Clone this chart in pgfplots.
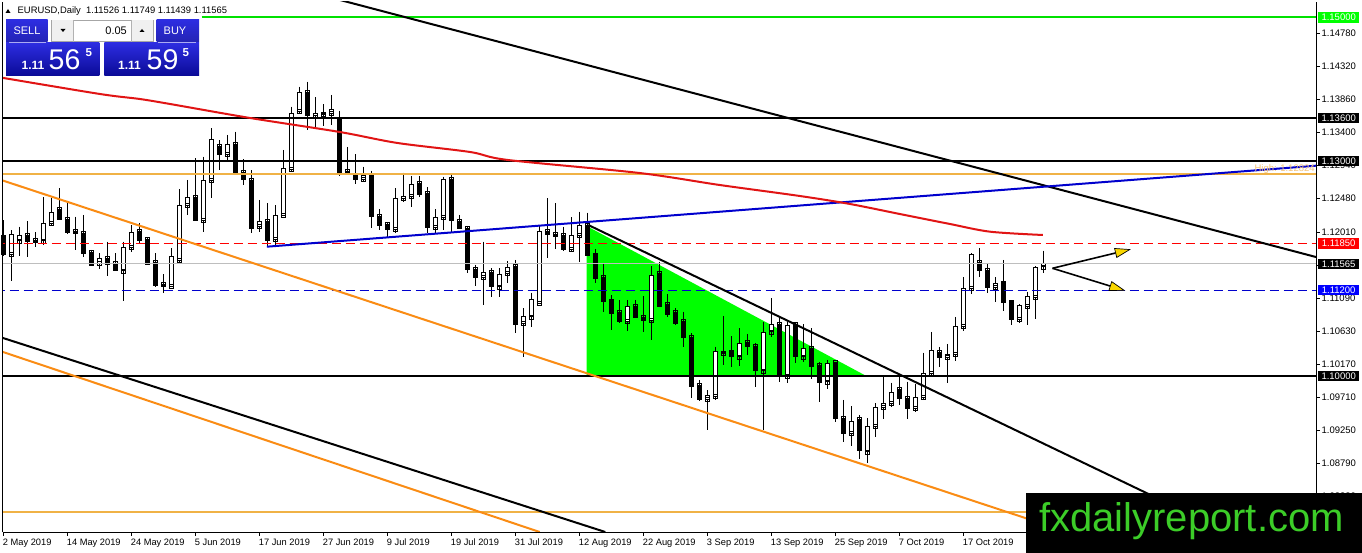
\documentclass[border=0pt]{standalone}
\usepackage{pgfplots}
\pgfplotsset{compat=1.18}
\usepackage{pgfplotstable}
\usepackage{fontspec}
\setmainfont{Liberation Sans}
\usetikzlibrary{arrows.meta}

\definecolor{lgreen}{RGB}{0,225,0}
\definecolor{trigreen}{RGB}{0,255,0}
\definecolor{horange}{RGB}{240,178,70}
\definecolor{dorange}{RGB}{250,140,20}
\definecolor{mared}{RGB}{225,20,20}
\definecolor{mtblue}{RGB}{0,0,205}
\definecolor{bidgray}{RGB}{190,190,190}
\definecolor{btntop}{RGB}{45,45,225}
\definecolor{btnbot}{RGB}{10,10,150}
\definecolor{wmgreen}{RGB}{60,205,40}
\definecolor{arrowyellow}{RGB}{250,215,0}
\definecolor{hilabel}{RGB}{245,195,120}

\pgfplotstableread{
i o h l c
0 1.11944 1.12177 1.11676 1.11690
1 1.11699 1.12037 1.11331 1.11977
2 1.11888 1.12084 1.11676 1.11964
3 1.11964 1.12163 1.11658 1.11874
4 1.11894 1.12006 1.11805 1.11874
5 1.11888 1.12494 1.11829 1.12135
6 1.12131 1.12488 1.12107 1.12285
7 1.12326 1.12619 1.12177 1.12187
8 1.12187 1.12410 1.11982 1.12000
9 1.12024 1.12223 1.11759 1.11992
10 1.11992 1.12247 1.11658 1.11717
11 1.11727 1.11759 1.11536 1.11550
12 1.11574 1.11713 1.11490 1.11643
13 1.11643 1.11874 1.11397 1.11564
14 1.11574 1.11713 1.11466 1.11470
15 1.11470 1.11874 1.11052 1.11797
16 1.11797 1.12107 1.11735 1.12006
17 1.12024 1.12131 1.11843 1.11898
18 1.11912 1.11926 1.11550 1.11564
19 1.11588 1.11713 1.11239 1.11271
20 1.11285 1.11424 1.11155 1.11261
21 1.11257 1.11783 1.11239 1.11666
22 1.11620 1.12609 1.11582 1.12386
23 1.12386 1.12735 1.12247 1.12494
24 1.12494 1.13037 1.12163 1.12177
25 1.12177 1.13060 1.12014 1.12735
26 1.12725 1.13456 1.12488 1.13302
27 1.13209 1.13292 1.12874 1.13093
28 1.13093 1.13362 1.12990 1.13237
29 1.13237 1.13408 1.12832 1.12837
30 1.12842 1.13023 1.12665 1.12745
31 1.12735 1.12874 1.11992 1.12061
32 1.12084 1.12456 1.12014 1.12154
33 1.12154 1.12410 1.11805 1.11898
34 1.11908 1.12386 1.11829 1.12247
35 1.12247 1.13153 1.12233 1.12898
36 1.12888 1.13757 1.12851 1.13665
37 1.13687 1.14035 1.13655 1.13952
38 1.13952 1.14105 1.13432 1.13631
39 1.13631 1.13888 1.13456 1.13665
40 1.13655 1.13790 1.13488 1.13669
41 1.13665 1.13920 1.13502 1.13720
42 1.13581 1.13701 1.12791 1.12837
43 1.12860 1.13195 1.12805 1.12832
44 1.12805 1.13097 1.12679 1.12749
45 1.12749 1.12920 1.12711 1.12805
46 1.12805 1.12864 1.12061 1.12223
47 1.12233 1.12326 1.12037 1.12107
48 1.12121 1.12135 1.11944 1.12047
49 1.12047 1.12619 1.11992 1.12480
50 1.12480 1.12837 1.12432 1.12512
51 1.12502 1.12791 1.12363 1.12679
52 1.12689 1.12791 1.12502 1.12540
53 1.12550 1.12633 1.11992 1.12075
54 1.12075 1.12326 1.11992 1.12215
55 1.12215 1.12781 1.12037 1.12745
56 1.12745 1.12805 1.12014 1.12177
57 1.12154 1.12247 1.12047 1.12061
58 1.12061 1.12094 1.11443 1.11490
59 1.11490 1.11550 1.11257 1.11379
60 1.11379 1.11874 1.10992 1.11443
61 1.11448 1.11504 1.11108 1.11247
62 1.11247 1.11504 1.11108 1.11420
63 1.11434 1.11606 1.11303 1.11518
64 1.11536 1.11620 1.10598 1.10727
65 1.10737 1.10946 1.10263 1.10839
66 1.10829 1.11164 1.10690 1.11072
67 1.11016 1.12107 1.11006 1.12014
68 1.12014 1.12480 1.11643 1.11982
69 1.11982 1.12410 1.11769 1.11954
70 1.11968 1.12084 1.11749 1.11769
71 1.11769 1.12215 1.11749 1.11968
72 1.11968 1.12293 1.11596 1.12107
73 1.12107 1.12279 1.11676 1.11676
74 1.11690 1.11769 1.11295 1.11364
75 1.11379 1.11574 1.10899 1.11038
76 1.11052 1.11132 1.10644 1.10877
77 1.10891 1.11062 1.10737 1.10760
78 1.10760 1.11062 1.10634 1.10969
79 1.10978 1.11062 1.10807 1.10821
80 1.10821 1.11118 1.10620 1.10773
81 1.10783 1.11536 1.10504 1.11411
82 1.11434 1.11596 1.10969 1.10978
83 1.11006 1.11146 1.10829 1.10867
84 1.10885 1.10946 1.10714 1.10737
85 1.10760 1.10899 1.10411 1.10542
86 1.10542 1.10598 1.09696 1.09853
87 1.09877 1.09947 1.09654 1.09678
88 1.09678 1.09807 1.09250 1.09734
89 1.09724 1.10411 1.09668 1.10341
90 1.10323 1.10839 1.10156 1.10337
91 1.10341 1.10560 1.10132 1.10271
92 1.10271 1.10668 1.10142 1.10458
93 1.10467 1.10588 1.10295 1.10411
94 1.10421 1.10463 1.09845 1.10076
95 1.10076 1.10755 1.09250 1.10612
96 1.10620 1.11086 1.10550 1.10727
97 1.10727 1.10807 1.09923 1.10003
98 1.10003 1.10760 1.09901 1.10714
99 1.10727 1.10737 1.10180 1.10271
100 1.10271 1.10727 1.10202 1.10389
101 1.10389 1.10668 1.09957 1.10142
102 1.10156 1.10198 1.09644 1.09909
103 1.09923 1.10226 1.09817 1.10180
104 1.10188 1.10202 1.09366 1.09413
105 1.09413 1.09668 1.09087 1.09204
106 1.09204 1.09584 1.09027 1.09375
107 1.09399 1.09459 1.08841 1.08961
108 1.08947 1.09413 1.08786 1.09306
109 1.09306 1.09622 1.09156 1.09566
110 1.09566 1.09984 1.09399 1.09622
111 1.09622 1.09909 1.09566 1.09775
112 1.09817 1.09984 1.09598 1.09692
113 1.09692 1.09923 1.09399 1.09552
114 1.09552 1.09891 1.09505 1.09706
115 1.09706 1.10327 1.09678 1.10040
116 1.10040 1.10616 1.10003 1.10355
117 1.10337 1.10407 1.10124 1.10263
118 1.10263 1.10449 1.09901 1.10305
119 1.10305 1.10825 1.10216 1.10690
120 1.10690 1.11378 1.10634 1.11225
121 1.11225 1.11717 1.11146 1.11699
122 1.11588 1.11783 1.11378 1.11470
123 1.11480 1.11564 1.11164 1.11239
124 1.11239 1.11378 1.11038 1.11295
125 1.11303 1.11620 1.10913 1.11024
126 1.11038 1.11052 1.10714 1.10793
127 1.10793 1.11006 1.10746 1.10992
128 1.10978 1.11178 1.10714 1.11108
129 1.11100 1.11530 1.10793 1.11518
130 1.11526 1.11749 1.11439 1.11565
}\candles

\pgfplotstableread{
i p
-1 1.14175
12 1.13934
17 1.13864
20.8 1.13794
30.8 1.13599
42 1.13404
49.2 1.13251
58.3 1.13125
63 1.13014
79.5 1.12832
89.5 1.12665
99.5 1.12512
105.8 1.12400
112 1.12261
118.3 1.12121
123.3 1.12014
129.9 1.11968
}\ma

\newcommand{\ptag}[3]{\node[fill=#2, text=white, anchor=west, inner sep=0pt,
  minimum height=10.5pt, minimum width=41pt,
  font=\fontsize{9.5}{9.5}\selectfont] at ([xshift=2pt]#1) {#3};}

\begin{document}
\begin{tikzpicture}
\useasboundingbox (0,0) rectangle (1362pt,553pt);
\fill[white] (0,0) rectangle (1362pt,553pt);
\begin{axis}[
  at={(2.7pt,21pt)}, anchor=south west,
  scale only axis, width=1313.3pt, height=530pt,
  xmin=-0.125, xmax=164.04, ymin=1.07828, ymax=1.15216,
  axis x line*=bottom, axis y line*=right,
  axis line style={black, line width=0.9pt},
  clip mode=individual,
  xtick={0,8,...,120},
  xticklabels={2 May 2019,14 May 2019,24 May 2019,5 Jun 2019,17 Jun 2019,27 Jun 2019,9 Jul 2019,19 Jul 2019,31 Jul 2019,12 Aug 2019,22 Aug 2019,3 Sep 2019,13 Sep 2019,25 Sep 2019,7 Oct 2019,17 Oct 2019},
  ytick={1.14780,1.14320,1.13860,1.13400,1.12940,1.12480,1.12010,1.11550,1.11090,1.10630,1.10170,1.09710,1.09250,1.08790,1.08330},
  yticklabels={1.14780,1.14320,1.13860,1.13400,1.12940,1.12480,1.12010,1.11550,1.11090,1.10630,1.10170,1.09710,1.09250,1.08790,1.08330},
  tick align=outside,
  major tick length=4pt,
  tick style={black, line width=0.8pt},
  xticklabel style={font=\fontsize{9.3}{9.3}\selectfont, anchor=north west, inner sep=0pt, xshift=-1pt, yshift=-3pt},
  yticklabel style={font=\fontsize{9.5}{9.5}\selectfont, anchor=west, inner sep=0pt, xshift=1.5pt},
]
% green triangle
\addplot[fill=trigreen, draw=none, forget plot] coordinates {(72.875,1.12093) (72.875,1.10000) (107.875,1.10000) (72.875,1.12093)};
% wicks (high to low)
\addplot[draw=none, no markers, forget plot,
  error bars/.cd, y dir=minus, y explicit, error mark=none,
  error bar style={draw=black, line width=0.9pt}]
  table[x=i, y=h, y error expr=\thisrow{h}-\thisrow{l}] {\candles};
% bodies (open to close)
\addplot[scatter, only marks, mark=square, forget plot,
  point meta={\thisrow{c}-\thisrow{o}},
  scatter/@pre marker code/.code={%
    \pgfkeys{/pgf/fpu=true}%
    \pgfmathparse{\pgfplotspointmeta*7173.8}%
    \pgfmathfloattofixed{\pgfmathresult}%
    \let\hgt\pgfmathresult
    \pgfkeys{/pgf/fpu=false}%
    \ifdim\hgt pt>0pt
      \draw[black, line width=0.9pt, fill=white] (-2pt,0pt) rectangle (2pt,\hgt pt);
    \else
      \draw[black, line width=0.9pt, fill=black] (-2pt,0pt) rectangle (2pt,\hgt pt);
    \fi
  },
  scatter/@post marker code/.code={}]
  table[x=i, y=o] {\candles};
% horizontal levels
\addplot[lgreen, line width=2pt, forget plot] coordinates {(24.75,1.15000) (166,1.15000)};
\addplot[black, line width=2pt, forget plot] coordinates {(-1,1.13600) (166,1.13600)};
\addplot[black, line width=2pt, forget plot] coordinates {(-1,1.13000) (166,1.13000)};
\addplot[horange, line width=2pt, forget plot] coordinates {(-1,1.12824) (166,1.12824)};
\addplot[draw={rgb,255:red,255;green,0;blue,0}, line width=1.6pt, dash pattern=on 9pt off 5pt, forget plot] coordinates {(-1,1.11850) (166,1.11850)};
\addplot[bidgray, line width=1pt, forget plot] coordinates {(-1,1.11565) (166,1.11565)};
\addplot[draw=mtblue, line width=1pt, dash pattern=on 9pt off 5pt, forget plot] coordinates {(-1,1.11200) (166,1.11200)};
\addplot[black, line width=2pt, forget plot] coordinates {(-1,1.10000) (166,1.10000)};
\addplot[horange, line width=2pt, forget plot] coordinates {(-1,1.08111) (166,1.08111)};
% trend lines
\addplot[black, line width=2pt, forget plot] coordinates {(42.04,1.15244) (164.04,1.11661)};
\addplot[mtblue, line width=2pt, forget plot] coordinates {(32.9,1.11805) (164.04,1.12934)};
\addplot[dorange, line width=2pt, forget plot] coordinates {(-1,1.12760) (133.0,1.07828)};
\addplot[dorange, line width=2pt, forget plot] coordinates {(-1,1.10371) (67.0,1.07828)};
\addplot[black, line width=2pt, forget plot] coordinates {(-1,1.10565) (75.2,1.07828)};
\addplot[black, line width=2pt, forget plot] coordinates {(73.08,1.12107) (153.0,1.07828)};
% moving average
\addplot[mared, line width=2pt, smooth, forget plot] table[x=i, y=p] {\ma};
% arrows
\draw[black, line width=1.6pt, -{Triangle[length=16pt,width=10pt,fill=arrowyellow,line width=0.7pt]}] (axis cs:131.1,1.11504) -- (axis cs:140.9,1.11769);
\draw[black, line width=1.6pt, -{Triangle[length=16pt,width=10pt,fill=arrowyellow,line width=0.7pt]}] (axis cs:131.1,1.11504) -- (axis cs:140.2,1.11192);
% left frame
\draw[black, line width=0.9pt] (rel axis cs:0,0) -- (rel axis cs:0,1);
% label of orange level
\node[anchor=base east, text=hilabel, inner sep=0pt, font=\fontsize{9.5}{9.5}\selectfont] at ([yshift=2.5pt]axis cs:163.9,1.12824) {High: 1.12824};
% tag anchors
\coordinate (T1) at (axis cs:164.04,1.15000);
\coordinate (T2) at (axis cs:164.04,1.13600);
\coordinate (T3) at (axis cs:164.04,1.13000);
\coordinate (T4) at (axis cs:164.04,1.11850);
\coordinate (T5) at (axis cs:164.04,1.11565);
\coordinate (T6) at (axis cs:164.04,1.11200);
\coordinate (T7) at (axis cs:164.04,1.10000);
\end{axis}
% price tags
\ptag{T1}{trigreen}{1.15000}
\ptag{T2}{black}{1.13600}
\ptag{T3}{black}{1.13000}
\ptag{T4}{red}{1.11850}
\ptag{T5}{black}{1.11565}
\ptag{T6}{blue}{1.11200}
\ptag{T7}{black}{1.10000}
% overlays in pixel coordinates (y downward)
\begin{scope}[x=1pt, y=-1pt, shift={(0pt,553pt)}]
  % header
  \fill[black] (5.5,13) -- (10.5,13) -- (8,9) -- cycle;
  \node[anchor=west, inner sep=0pt, font=\fontsize{9.4}{10}\selectfont] at (17.5,11) {EURUSD,Daily\ \ 1.11526 1.11749 1.11439 1.11565};
  % SELL panel
  \shade[top color=btntop, bottom color=btntop!80!black] (6,20) rectangle (47.7,41.7);
  \shade[top color=btntop, bottom color=btnbot] (6,42.7) rectangle (99.3,76);
  \draw[white!60!btntop, line width=0.8pt] (9,42.2) -- (46,42.2);
  \node[text=white, font=\fontsize{11}{11}\selectfont] at (27,31) {SELL};
  \node[text=white, anchor=base west, inner sep=0pt, font=\bfseries\fontsize{12}{12}\selectfont] at (21.5,70) {1.11};
  \node[text=white, anchor=base west, inner sep=0pt, font=\fontsize{28.5}{28.5}\selectfont] at (48.5,70) {56};
  \node[text=white, anchor=base west, inner sep=0pt, font=\bfseries\fontsize{11.5}{11.5}\selectfont] at (85.5,56.7) {5};
  % lot box
  \fill[white] (51.7,20) rectangle (153.3,41.7);
  \draw[gray!70, line width=0.7pt] (51.7,20) rectangle (153.3,41.7);
  \fill[gray!12] (52.2,20.5) rectangle (73.3,41.2);
  \fill[gray!12] (131.7,20.5) rectangle (152.8,41.2);
  \draw[gray!60, line width=0.6pt] (73.3,20) -- (73.3,41.7);
  \draw[gray!60, line width=0.6pt] (131.7,20) -- (131.7,41.7);
  \fill[black] (60.5,29) -- (65.5,29) -- (63,32) -- cycle;
  \fill[black] (139.5,32) -- (144.5,32) -- (142,29) -- cycle;
  \node[anchor=east, inner sep=0pt, font=\fontsize{11}{11}\selectfont] at (127,31) {0.05};
  % BUY panel
  \shade[top color=btntop, bottom color=btntop!80!black] (156.7,20) rectangle (199,41.7);
  \shade[top color=btntop, bottom color=btnbot] (104.3,42.7) rectangle (199,76);
  \draw[white!60!btntop, line width=0.8pt] (158,42.2) -- (196,42.2);
  \node[text=white, font=\fontsize{11}{11}\selectfont] at (175,31) {BUY};
  \node[text=white, anchor=base west, inner sep=0pt, font=\bfseries\fontsize{12}{12}\selectfont] at (118,70) {1.11};
  \node[text=white, anchor=base west, inner sep=0pt, font=\fontsize{28.5}{28.5}\selectfont] at (146.5,70) {59};
  \node[text=white, anchor=base west, inner sep=0pt, font=\bfseries\fontsize{11.5}{11.5}\selectfont] at (182.5,56.7) {5};
  % watermark
  \fill[black] (1026,493) rectangle (1362,553);
  \node[text=wmgreen, anchor=base west, inner sep=0pt, font=\fontsize{40}{40}\selectfont] at (1039,531.5) {fxdailyreport.com};
\end{scope}
\end{tikzpicture}
\end{document}
